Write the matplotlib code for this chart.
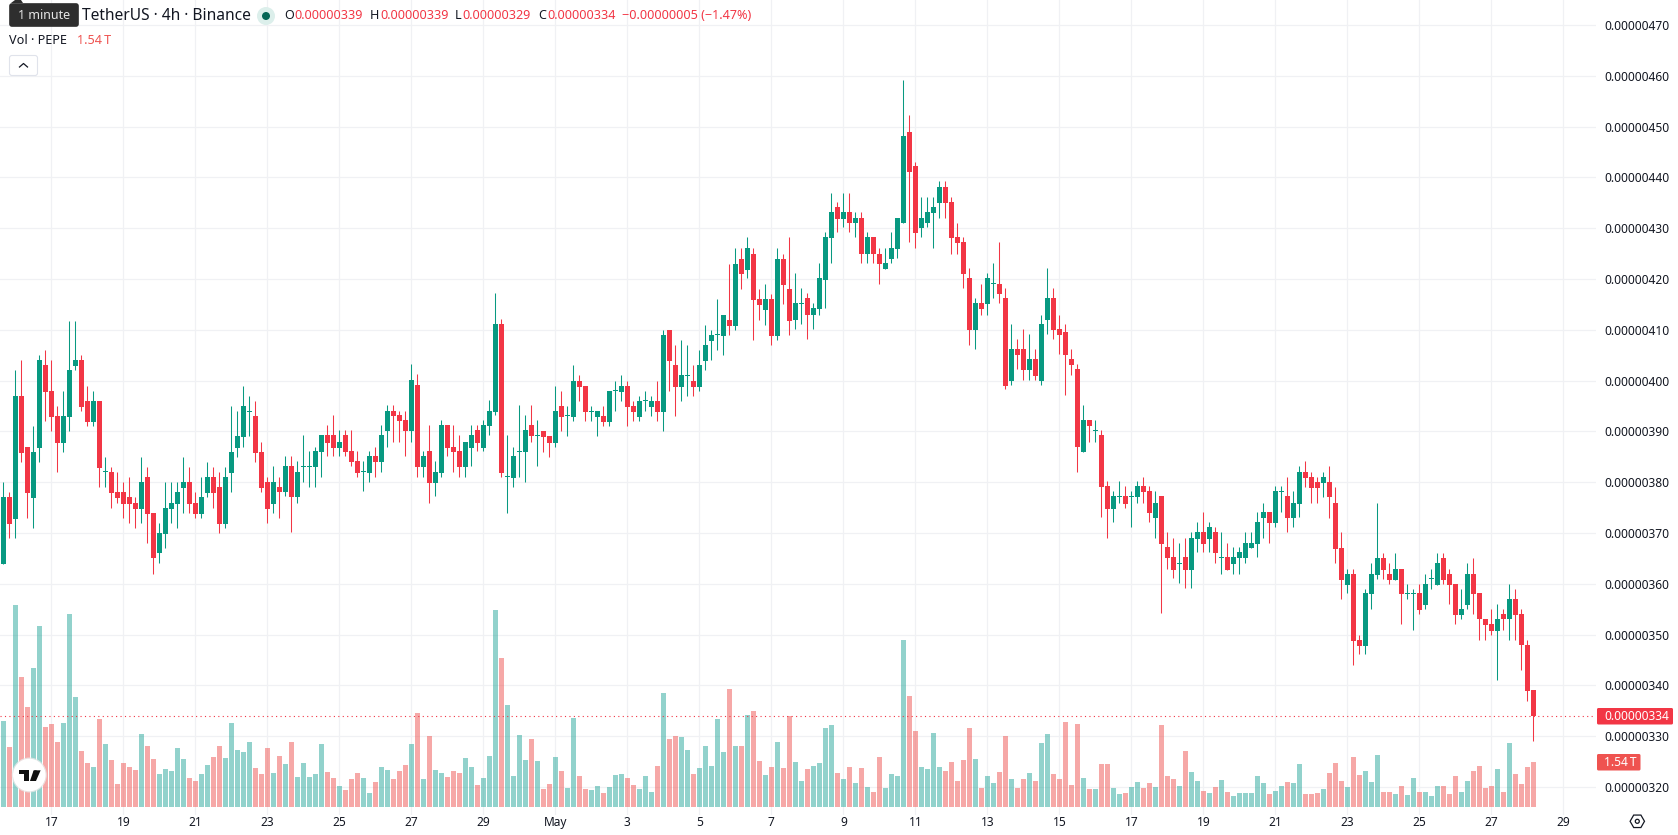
import matplotlib
matplotlib.use("Agg")
import matplotlib.pyplot as plt
from matplotlib.lines import Line2D
from matplotlib.patches import Circle, FancyBboxPatch, Polygon, RegularPolygon
from matplotlib.ticker import FuncFormatter
import numpy as np

# PEPE/USDT 4h prices, in units of 1e-8 USDT
opens = [
    363.8,377.1,372.8,396.9,386.9,376.9,386.7,403,397.9,393,
    387.7,392.8,402.8,404,395.9,391.8,395.9,382,382,378.1,
    378.1,377.1,375.9,374.8,381,374,366,369.9,374.8,375.8,
    378.9,380.1,375.9,373.8,377.9,381,379.1,371.8,381.8,386.7,
    388.9,393.9,393,385.9,380.1,375.8,379.1,378,383.1,377,
    383,383,382.9,385.9,389.2,389.2,386.8,389.2,386.1,384.1,
    382,381.9,385.1,383.9,390,394.1,393.2,392.2,390,399.1,
    382.9,386.1,379.9,381.9,391.2,387,386.1,382.9,386.8,390.2,
    386.8,391,393.9,411.1,381,380.9,386,385.9,391.2,389,
    390.1,389.1,387.7,395,393,392.8,399.9,398.9,393.9,392.8,
    393,391.8,397.9,397.8,398.9,395,392.8,395.9,394.8,396,
    393.8,410,403.1,398.8,401,399.9,398.8,403.9,407.8,409,
    408.8,412,410.8,424,421.8,425,416.1,413.9,416.1,408.8,
    424,418.1,411.9,415.1,416.2,412.9,414,419.9,428,434.1,
    431.9,433.1,431,432.1,424.9,428.2,425,421.9,423.9,426,
    431,449,442.2,430,431,432.9,434.9,438.2,435.1,428.2,
    427.2,420.1,409.9,415.2,415,419.1,419.1,416.2,399.9,406.2,
    406.2,402,404.2,399.9,411.9,416.2,410.1,409.6,404.2,402.2,
    385.9,392.2,390.1,389.2,379.2,374.8,377.1,377.2,377.1,377,
    379.2,378.2,372.9,377.2,367.2,365.2,363.9,365.2,362.8,368.9,
    370.1,368.9,370.1,365.1,365.2,363.8,365,365,367,367.9,
    372.9,374.1,371.9,378.1,377.2,372.9,375.8,382.1,381.1,380.1,
    379.9,380.1,376,367.1,359.8,362,349,347.8,357.9,361.8,
    365.1,362,360.8,363,358,358,358.1,355.9,361,359.8,
    365.1,362,360,353.9,355.9,362,358.1,353.1,352,350.8,
    354.1,353,357.1,354.1,348,339,
]
highs = [
    380.1,378.1,402,404,386.9,391,405,406,404,395,
    397.9,411.8,411.8,405,398.9,397.9,395.9,385,383,382,
    380.1,381,377.1,385,383,374,372,380.1,380.1,380.1,
    385,383,378.1,381,384,383,382,383,395,394,
    398.9,396.9,395.9,387.9,381,383.1,381.1,385.1,385.1,384.1,
    389.2,386.1,387,389.2,391.2,393.2,390.2,390.2,390.2,386.1,
    384.1,386.1,387,391.2,395.1,395.1,394.1,394.1,403.2,401.3,
    386.1,391.2,384.1,392.2,391.2,391.2,389.2,388,391.2,391.2,
    392.2,396.1,417.2,412.1,389.2,387,395.1,393.2,395.1,392.2,
    390.1,389.1,398.9,398,395,403.1,401.1,398.9,395,394,
    395,398,399.9,401.1,399.9,396,397,398,397,399.9,
    410,410,407,408,407,403.1,406,411,410,416.1,
    413,423,426.2,426.2,428.2,426.2,418.1,419.1,417.1,426.2,
    425,428.2,421.1,418.2,417.2,415.2,423.1,429.2,437,435.1,
    437,437,433.1,433.1,429.2,428.2,426.2,426.2,429.2,432.1,
    459.1,452.2,443.1,436.1,436.1,436.1,439.2,439.2,436.1,431.1,
    428.2,422.1,416.2,419.1,421.1,423.1,427.2,418.2,411.1,408.1,
    410.1,409.1,406.2,413,422.1,418.2,413,411.1,406.2,403.2,
    395.1,392.2,392.2,390.2,380.2,378.2,380.2,379.2,378.2,380.2,
    381.1,379.2,378.2,377.2,370.1,369.1,368.1,369.1,370.1,372.1,
    374.1,372.1,371.1,370.1,368.1,367.2,367.2,370.1,370.1,374.1,
    376,374.1,379.2,379.2,381.1,378.2,383.1,384.1,382.1,381.1,
    382.1,383.1,379.1,370.1,363,363,350,359,364,376,
    366.1,364,366.1,363,360,359,360,362,363,366.1,
    366.1,363,360,359,364,365.1,358.1,353.1,355.1,356.1,
    355.1,360,359,355.1,349,339,
]
lows = [
    363.8,369.1,369.1,384,373,371,384,392,390.1,382,
    385.9,390.1,402,394,391,391,379.1,379.1,375,376,
    373,372,371,372,368.1,362,364,367.1,372,371,
    374,374,373,373,377.1,375,370,371,378.1,385,
    386.9,389.1,384,378.1,372,374,373,377.2,370.1,376,
    380.1,379.1,379.1,381.1,385.1,385.1,385.1,385.1,383.1,381.1,
    378.2,380.1,381.1,382.1,387,388,388,385.1,388,381.1,
    381.1,376,377.2,381.1,385.1,382.1,381.1,381.1,383.1,386.1,
    386.1,389.2,393.2,381.1,374,379.1,381.1,380.1,388,383.1,
    385.9,384.9,386.9,390.1,389.1,392,396,392,392,389.1,
    391,391,394,396,391,392,392,394,393,392,
    390.1,398,393,396,397,397,398,402.1,404.1,406,
    405.1,409,410,418.1,420.1,408,412,411,407,408,
    415.1,409,410.1,411.1,408.1,410.1,413,414.2,423.1,429.2,
    430.2,429.2,428.2,423.1,423.1,423.1,419.1,421.9,423.1,424.1,
    431,427.2,426.2,428.2,430.2,426.2,432.1,432.1,425,425,
    418.2,407.1,406.2,413,413,416.2,415.2,398.3,399.1,402.2,
    400.1,400.1,400.1,399.1,409.1,408.1,405.2,397.1,401.2,382.1,
    385.9,388,388,373.1,369.1,372.1,376,375,371.1,376,
    376,372.1,369.1,354.2,363,361.1,360.1,359.1,359.1,366.2,
    366.2,366.2,364,362,362.8,362,362,364,367,365.2,
    369.1,368.1,371.1,374.1,370.1,371.1,373.1,379.1,376,376,
    377.1,373,364,357.1,358.1,344.1,346.1,346.1,355.1,361,
    361,360,360.8,352,357.1,351,354.1,355.1,359,359.8,
    360,356.1,352,353.1,355.1,354.1,349,349,350,341.1,
    351,349,349,343.1,337,329.1,
]
closes = [
    377.1,371.8,396.9,385.8,377.9,385.9,404,397.7,392.8,387.7,
    393,402,404,394.8,391.8,395.9,382.8,382,377.9,376.9,
    375.8,375.8,374.8,380.1,373.8,365,370,375,375.9,378.1,
    380.1,375.8,373.8,377.1,381,377.9,371.8,381,385.9,389.1,
    395,393.9,385.8,378.9,374.8,380.1,378,383.1,377,382.1,
    383,383,386.1,389.2,387.8,386.8,388,385.9,383.9,381.9,
    382,385.1,383.9,389.2,394.1,393,392,390,400.1,382.9,
    385.1,379.9,382.1,391.2,386.8,385.9,382.9,388,389.2,387.8,
    391.2,394.1,411.1,381.9,381,385.1,386,390.2,389,389,
    388.9,387.7,394,392.8,393,399.9,398.8,393.8,393.9,394,
    391.8,398,397.9,398.9,394.8,393.8,396,395.9,396,393.8,
    409,403.9,398.8,401.1,401,398.8,403.1,407,409,409,
    413,410.8,423,420.9,426.2,415.9,414.9,416.1,408.8,424,
    418.9,411.8,415.2,415.1,412.9,414.2,420.1,428.2,433.1,431.9,
    433.1,431,432.1,424.9,428.2,424.9,422.9,423.1,426.2,432.1,
    448.1,441,429,432.1,433.1,434.1,438.2,434.9,428,427,
    420.9,409.9,415.2,414,420.1,419.1,417,398.9,406.2,405,
    402,404.2,401,411.1,416.2,409.9,408.9,405,403,386.9,
    392.2,391,390.1,379,374.8,377.2,377.1,375.8,377.1,379.2,
    378,373.9,376,367.9,365,362.8,363.9,362.8,369.1,370.1,
    367.9,371.1,366,365.1,362.8,365.2,366.2,368.1,368.1,372.1,
    374.1,371.9,378.2,378.1,372.9,376,382.1,380.9,378.9,378.9,
    381.1,377,366.9,360.8,362,348.8,347.8,358.1,362,365.1,
    362.8,360.8,363,357.9,358,358,354.9,360,361,364,
    360.8,359.8,353.9,355.1,362,357.9,353,351.8,350.8,353.1,
    353,357.1,353.9,348,338.8,333.9,
]
# Traded volume per candle, in trillions of PEPE
volumes = [
    2.94,2.05,6.91,4.45,3.42,4.76,6.19,2.74,2.84,2.22,
    2.87,6.60,3.76,1.92,1.51,1.37,3.01,2.16,1.61,0.79,
    1.51,1.37,1.27,2.50,2.09,1.64,1.13,1.30,1.23,2.02,
    1.64,0.99,0.89,1.13,1.44,1.71,2.09,1.68,2.87,1.95,
    1.88,2.22,1.33,1.13,2.02,1.16,1.75,1.47,2.22,1.03,
    1.51,1.03,1.13,2.16,1.20,0.99,0.72,0.58,0.96,1.16,
    0.99,0.48,0.86,1.37,1.27,0.96,1.23,1.44,2.16,3.22,
    0.96,2.43,1.27,1.16,1.03,1.23,1.16,1.68,1.37,0.75,
    0.99,1.75,6.74,5.10,3.49,1.06,2.46,1.61,2.33,1.57,
    0.62,0.79,1.71,1.23,0.65,3.05,1.06,0.62,0.58,0.72,
    0.48,0.68,1.10,1.13,0.99,0.75,0.62,1.06,0.51,1.40,
    3.90,2.33,2.43,2.40,1.95,1.13,1.33,2.09,1.40,3.01,
    1.88,4.04,2.09,2.09,3.15,3.29,1.57,1.10,1.37,2.22,
    1.33,3.11,1.54,0.89,1.30,1.40,1.51,2.70,2.81,1.16,
    0.96,1.37,0.82,1.33,0.68,0.51,1.71,0.65,1.13,1.06,
    5.71,3.80,2.60,1.37,1.30,2.53,1.37,1.23,1.54,0.89,
    1.61,2.70,1.64,0.65,1.06,0.82,1.20,2.43,0.96,0.65,
    0.96,1.16,0.89,2.19,2.50,1.13,0.96,2.91,0.75,2.84,
    0.99,0.62,0.62,1.47,1.47,0.65,0.44,0.48,0.68,0.86,
    0.65,0.82,0.68,2.81,1.06,0.96,0.72,1.92,1.20,0.89,
    0.55,0.48,0.68,0.92,0.51,0.38,0.48,0.48,0.48,1.06,
    0.82,0.44,0.55,0.72,0.86,0.82,1.47,0.44,0.44,0.48,
    0.62,1.16,1.51,0.89,0.68,1.71,1.10,1.23,0.86,1.78,
    0.51,0.51,0.44,0.72,0.41,0.99,0.51,0.51,0.38,0.72,
    0.72,0.44,1.06,0.51,0.89,1.23,1.40,0.65,0.72,1.30,
    0.51,2.19,1.13,0.79,1.37,1.54,
]
date_labels = ["17", "19", "21", "23", "25", "27", "29", "May", "3", "5", "7",
               "9", "11", "13", "15", "17", "19", "21", "23", "25", "27", "29"]
date_positions = [8 + 12 * k for k in range(len(date_labels))]
price_ticks = list(range(320, 480, 10))
change_text = "\u22120.00000005 (\u22121.47%)"

W, H = 1678, 835
UP, DOWN = "#089981", "#f23645"
VOL_UP, VOL_DOWN = "#26a69a", "#ef5350"
TEXT = "#131722"
GRID = "#f0f1f4"
FONT = "Noto Sans"
plt.rcParams["font.family"] = [FONT, "DejaVu Sans"]

PANE_RIGHT, PANE_BOTTOM = 1596, 815
PX_PER_CANDLE = 6.0
PX_PER_PRICE = 5.08
PX_PER_VOL = 29.22

fig = plt.figure(figsize=(W / 100, H / 100), dpi=100, facecolor="white")
pane = [0, (H - PANE_BOTTOM) / H, PANE_RIGHT / W, PANE_BOTTOM / H]

ax = fig.add_axes(pane, zorder=1)
ax_vol = fig.add_axes(pane, zorder=2)
ax_vol.patch.set_visible(False)

x = np.arange(len(closes))
o, h, l, c = map(np.array, (opens, highs, lows, closes))
rising = c >= o

xlim = (-3.33 / PX_PER_CANDLE, (PANE_RIGHT - 3.33) / PX_PER_CANDLE)
for a in (ax, ax_vol):
    a.set_xlim(xlim)
    for s in a.spines.values():
        s.set_visible(False)
ax.set_ylim(320 + (787 - PANE_BOTTOM) / PX_PER_PRICE, 320 + 787 / PX_PER_PRICE)
ax_vol.set_ylim((807 - PANE_BOTTOM) / PX_PER_VOL, 807 / PX_PER_VOL)
ax_vol.set_xticks([])
ax_vol.set_yticks([])

# grid and axes
ax.set_axisbelow(True)
ax.grid(True, color=GRID, linewidth=0.9)
ax.set_xticks(date_positions, date_labels)
ax.yaxis.tick_right()
ax.set_yticks(price_ticks)
ax.yaxis.set_major_formatter(FuncFormatter(lambda v, _: f"{v * 1e-8:.8f}"))
ax.tick_params(axis="both", length=0, labelsize=8.6, labelcolor=TEXT)
ax.tick_params(axis="x", pad=0.5)
ax.tick_params(axis="y", pad=6)
for lab in ax.get_xticklabels():
    if lab.get_text() == "May":
        lab.set_fontweight("bold")

# candles
colors = [UP if r else DOWN for r in rising]
ax.vlines(x, l, h, colors=colors, linewidth=0.75, zorder=3)
body_low = np.minimum(o, c)
body_h = np.maximum(np.abs(c - o), 1 / PX_PER_PRICE)
ax.bar(x, body_h, bottom=body_low, width=5 / PX_PER_CANDLE, color=colors, linewidth=0, zorder=4)

# volume histogram
vol_colors = [VOL_UP if r else VOL_DOWN for r in rising]
ax_vol.bar(x, volumes, width=5 / PX_PER_CANDLE, color=vol_colors, alpha=0.5, linewidth=0)

# dotted last-price line
ax_vol.add_line(Line2D(xlim, [closes[-1], closes[-1]], transform=ax.transData, color=DOWN,
                       linewidth=0.8, linestyle=(0, (1, 3)), zorder=5))

# header, tags and logo are laid out in pixel coordinates on a top layer
top = fig.add_axes([0, 0, 1, 1], zorder=5)
top.set_xlim(0, W)
top.set_ylim(H, 0)
top.axis("off")

def label(px, py, s, color=TEXT, size=9.4, **kw):
    top.text(px, py, s, color=color, fontsize=size, va="center", ha=kw.pop("ha", "left"), **kw)

# legend line with the symbol and OHLC readout
top.add_patch(Polygon([(11, 3), (15, 0), (21, 0), (23, 3)], closed=True, color="#2e2e2e", linewidth=0))
top.add_patch(FancyBboxPatch((10, 4), 68, 22, boxstyle="round,pad=0,rounding_size=2",
                             facecolor="#2e2e2e", edgecolor="#2e2e2e", linewidth=1.2))
label(18, 15.5, "1 minute", color="#e6e6e6", size=9)
label(82.5, 15.5, "TetherUS · 4h · Binance", size=11.2)
top.add_patch(Circle((266, 16), 9, color="#dcefeb", linewidth=0))
top.add_patch(Circle((266, 16), 4, color="#056656", linewidth=0))

fmt8 = lambda v: f"{v * 1e-8:.8f}"
readout = [("O", opens[-1], 284, 294.7), ("H", highs[-1], 370, 380),
           ("L", lows[-1], 455, 462.5), ("C", closes[-1], 538, 547.5)]
for name, value, x_name, x_value in readout:
    label(x_name, 15.5, name, size=9.05)
    label(x_value, 15.5, fmt8(value), color=DOWN, size=9.05)
label(622, 15.5, change_text, color=DOWN, size=9.1)

label(9, 40.5, "Vol · PEPE", size=9.1)
label(77, 40.5, f"{volumes[-1]:.2f}\u2009T", color=VOL_DOWN, size=9.1)
top.add_patch(FancyBboxPatch((9.5, 55.5), 28, 20, boxstyle="round,pad=0,rounding_size=2.5",
                             facecolor="white", edgecolor="#e0e3eb", linewidth=0.8))
top.plot([19.5, 23.5, 27.5], [67, 63.5, 67], color=TEXT, linewidth=0.9)

# last-price and volume tags on the scale
top.add_patch(FancyBboxPatch((1597, 708), 76, 16.5, boxstyle="round,pad=0,rounding_size=1.5",
                             facecolor=DOWN, edgecolor="none"))
label(1604.5, 716, fmt8(closes[-1]), color="white", size=8.6)
top.add_patch(FancyBboxPatch((1597, 754), 43.5, 16.5, boxstyle="round,pad=0,rounding_size=1.5",
                             facecolor=VOL_DOWN, edgecolor="none"))
label(1604.5, 762, f"{volumes[-1]:.2f}\u2009T", color="white", size=8.6)

# settings icon
top.add_patch(RegularPolygon((1637.3, 821.3), 6, radius=7.2, orientation=np.pi / 6, facecolor="white",
                             edgecolor=TEXT, linewidth=0.9))
top.add_patch(Circle((1637.3, 821.3), 2, facecolor="white", edgecolor=TEXT, linewidth=0.9))

# logo badge
cx, cy = 29.3, 775
top.add_patch(Circle((cx, cy), 17.5, facecolor="#e9e9e9", edgecolor="none", alpha=0.8))
top.add_patch(Circle((cx, cy), 16.3, facecolor="white", edgecolor="none"))
def logo_pts(pts):
    return [(cx + (a - 88) / 3, cy + (b - 555) / 3) for a, b in pts]
top.add_patch(Polygon(logo_pts([(57, 541), (87, 541), (87, 573), (72, 573), (72, 553), (57, 553)]),
                      closed=True, color="#0f0f0f", linewidth=0))
top.add_patch(Circle((cx + 6.2, cy - 2.6), 2.1, color="#0f0f0f", linewidth=0))
top.add_patch(Polygon(logo_pts([(101, 541), (122, 541), (108, 573), (90, 573)]),
                      closed=True, color="#0f0f0f", linewidth=0))

fig.savefig("out.png", dpi=100, facecolor="white")
